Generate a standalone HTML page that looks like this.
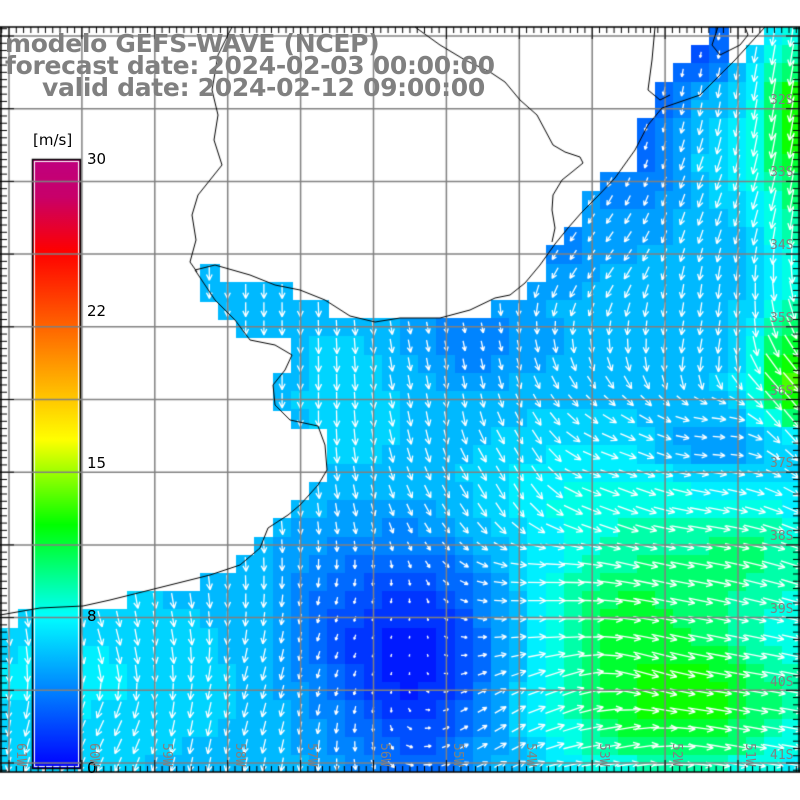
<!DOCTYPE html>
<html><head><meta charset="utf-8"><style>
html,body{margin:0;padding:0;background:#fff;}
#w{position:relative;width:800px;height:800px;overflow:hidden;background:#fff;font-family:"DejaVu Sans","Liberation Sans",sans-serif;}
canvas{position:absolute;left:0;top:0;}
.t{position:absolute;color:#808080;font-weight:bold;font-size:25px;letter-spacing:-0.3px;white-space:nowrap;line-height:1;}
.cb{position:absolute;font-size:15px;color:#000;line-height:1;}
.lat{position:absolute;font-size:13px;color:#808080;line-height:1;font-family:"DejaVu Sans Mono","Liberation Mono",monospace;}
.lon{position:absolute;font-size:13px;color:#808080;line-height:1;transform:rotate(90deg);transform-origin:left top;font-family:"DejaVu Sans Mono","Liberation Mono",monospace;}
</style></head><body><div id="w">
<canvas id="c" width="800" height="800"></canvas>
<div class="t" style="left:5px;top:31px">modelo GEFS-WAVE (NCEP)</div>
<div class="t" style="left:5px;top:53px">forecast date: 2024-02-03 00:00:00</div>
<div class="t" style="left:42px;top:75px">valid date: 2024-02-12 09:00:00</div>
<div class="cb" style="left:33px;top:133px">[m/s]</div>
<div class="cb" style="left:87px;top:152px">30</div>
<div class="cb" style="left:87px;top:304px">22</div>
<div class="cb" style="left:87px;top:456px">15</div>
<div class="cb" style="left:87px;top:609px">8</div>
<div class="cb" style="left:87px;top:761px">0</div>
<div class="lat" style="left:770px;top:94px">32S</div>
<div class="lat" style="left:770px;top:166px">33S</div>
<div class="lat" style="left:770px;top:239px">34S</div>
<div class="lat" style="left:770px;top:312px">35S</div>
<div class="lat" style="left:770px;top:385px">36S</div>
<div class="lat" style="left:770px;top:457px">37S</div>
<div class="lat" style="left:770px;top:530px">38S</div>
<div class="lat" style="left:770px;top:603px">39S</div>
<div class="lat" style="left:770px;top:676px">40S</div>
<div class="lat" style="left:770px;top:749px">41S</div>
<div class="lon" style="left:27px;top:743px">61W</div>
<div class="lon" style="left:100px;top:743px">60W</div>
<div class="lon" style="left:173px;top:743px">59W</div>
<div class="lon" style="left:246px;top:743px">58W</div>
<div class="lon" style="left:318px;top:743px">57W</div>
<div class="lon" style="left:391px;top:743px">56W</div>
<div class="lon" style="left:464px;top:743px">55W</div>
<div class="lon" style="left:537px;top:743px">54W</div>
<div class="lon" style="left:610px;top:743px">53W</div>
<div class="lon" style="left:683px;top:743px">52W</div>
<div class="lon" style="left:756px;top:743px">51W</div>
</div>
<script>
var c=document.getElementById('c'),g=c.getContext('2d');
var CS=18.2,OX=0,OY=9.2;
var rows={1:[[39,39],[42,44]],2:[[38,39],[41,44]],3:[[37,44]],4:[[36,44]],5:[[36,44]],6:[[35,44]],7:[[35,44]],8:[[35,44]],
9:[[33,44]],10:[[32,44]],11:[[32,44]],12:[[31,44]],13:[[30,44]],14:[[11,11],[30,44]],15:[[11,15],[29,44]],16:[[12,17],[27,44]],
17:[[13,44]],18:[[16,44]],19:[[16,44]],20:[[15,44]],21:[[15,44]],22:[[16,44]],23:[[18,44]],24:[[18,44]],25:[[18,44]],26:[[17,44]],
27:[[16,44]],28:[[15,44]],29:[[14,44]],30:[[13,44]],31:[[11,44]],32:[[7,44]],33:[[1,44]],34:[[0,44]],35:[[0,44]],36:[[0,44]],
37:[[0,44]],38:[[0,44]],39:[[0,44]],40:[[0,44]],41:[[0,44]]};
function G(x,y,cx,cy,sx,sy,a){return a*Math.exp(-((x-cx)*(x-cx)/(2*sx*sx)+(y-cy)*(y-cy)/(2*sy*sy)));}
function speed(x,y){
var s=5.8;
s+=G(x,y,420,660,60,90,-5);s+=G(x,y,330,620,40,60,-1.5);
s+=G(x,y,640,130,40,60,-3);s+=G(x,y,700,40,30,30,-3.5);
s+=G(x,y,560,240,30,30,-1.5);s+=G(x,y,470,340,50,30,-1.8);
s+=G(x,y,720,450,50,22,-2.2);s+=G(x,y,620,500,120,50,2.5);
s+=G(x,y,800,110,30,60,5.5);s+=G(x,y,800,380,35,40,6);
s+=G(x,y,680,700,100,60,6);s+=G(x,y,620,600,60,40,3);
s+=G(x,y,760,560,60,40,3);s+=G(x,y,60,680,120,60,1.5);
s+=G(x,y,350,400,40,60,1);s+=G(x,y,800,250,30,80,2.5);
s+=G(x,y,720,150,40,40,1.5);
return Math.max(0.3,s);}
var A=[[100,640,75],[100,740,115],[250,700,105],[300,400,90],[450,400,80],[500,470,60],[620,480,20],[700,530,10],
[550,600,0],[650,680,15],[500,720,-30],[750,740,10],[700,200,110],[600,250,125],[750,100,100],[700,340,100],
[720,440,5],[790,410,50],[250,320,90],[150,620,80],[360,650,110],[560,700,-20],[620,740,-10]];
function dir(x,y){var u=0,v=0;for(var i=0;i<A.length;i++){var dx=x-A[i][0],dy=y-A[i][1];var w=1/Math.pow(dx*dx+dy*dy+50,1.5);var a=A[i][2]*Math.PI/180;u+=w*Math.cos(a);v+=w*Math.sin(a);}return Math.atan2(v,u);}
function lerp(a,b,t){return [a[0]+(b[0]-a[0])*t,a[1]+(b[1]-a[1])*t,a[2]+(b[2]-a[2])*t];}
var ST=[[0,[0,0,255]],[8,[0,255,255]],[11.5,[0,255,0]],[15,[255,255,0]],[22,[255,64,0]],[30,[192,0,127]]];
function col(s){for(var i=0;i<ST.length-1;i++){if(s<=ST[i+1][0]){var t=(s-ST[i][0])/(ST[i+1][0]-ST[i][0]);var q=lerp(ST[i][1],ST[i+1][1],Math.max(0,t));return 'rgb('+(q[0]|0)+','+(q[1]|0)+','+(q[2]|0)+')';}}return 'rgb(192,0,127)';}
g.save();g.beginPath();g.rect(0,27,800,745);g.clip();
var cells=[];
for(var r in rows){rows[r].forEach(function(rg){for(var k=rg[0];k<=rg[1];k++){var x=OX+k*CS,y=OY+r*CS;cells.push([x,y]);
var cx=x+CS/2,cy=y+CS/2;var s=Math.round(speed(cx,cy)*1.2)/1.2;g.fillStyle=col(s);g.fillRect(Math.floor(x),Math.floor(y),Math.ceil(CS)+1,Math.ceil(CS)+1);}});}
g.strokeStyle='#fff';g.lineWidth=1.3;
cells.forEach(function(p){var cx=p[0]+CS/2,cy=p[1]+CS/2;var s=speed(cx,cy);var a=dir(cx,cy);var L=Math.min(26,2.5*s);
var dx=Math.cos(a)*L/2,dy=Math.sin(a)*L/2;var hx=cx+dx,hy=cy+dy;var h=Math.min(7,L*0.45);
g.beginPath();g.moveTo(cx-dx,cy-dy);g.lineTo(hx,hy);
g.moveTo(hx,hy);g.lineTo(hx-h*Math.cos(a-0.45),hy-h*Math.sin(a-0.45));
g.moveTo(hx,hy);g.lineTo(hx-h*Math.cos(a+0.45),hy-h*Math.sin(a+0.45));g.stroke();});
g.restore();
var gr=g.createLinearGradient(0,160,0,768);
gr.addColorStop(0,'#c0007f');gr.addColorStop(0.06,'#c8006a');gr.addColorStop(0.15,'#ff0000');gr.addColorStop(0.23,'#ff4000');
gr.addColorStop(0.46,'#ffff00');gr.addColorStop(0.6,'#00ff00');gr.addColorStop(0.75,'#00ffff');gr.addColorStop(1,'#0000ff');
g.fillStyle=gr;g.fillRect(33,160,47,608);
g.strokeStyle='#000';g.lineWidth=1.5;g.strokeRect(32.5,159.5,48,609);
g.strokeStyle='#fff';g.lineWidth=1;g.strokeRect(34.5,161.5,44,605);
g.strokeStyle='#808080';g.lineWidth=1.5;
for(var i=0;i<11;i++){var x=9+72.9*i;g.beginPath();g.moveTo(x,27);g.lineTo(x,772);g.stroke();}
for(var i=0;i<11;i++){var y=36+72.7*i;g.beginPath();g.moveTo(0,y);g.lineTo(800,y);g.stroke();}
g.strokeStyle='#000';g.lineWidth=1;
function pl(P){g.beginPath();g.moveTo(P[0],P[1]);for(var i=2;i<P.length;i+=2)g.lineTo(P[i],P[i+1]);g.stroke();}
pl([765,27,735,60,700,95,662,108,648,125,635,150,615,178,598,196,582,212,568,228,555,244,540,265,525,283,510,295,495,298,470,310,440,318,400,318,375,322,350,316,325,300,300,290,275,285,250,275,215,265,195,270,205,285,215,300,235,320,250,340,275,345,292,355,285,370,273,385,275,405,290,420,318,426,325,445,327,470,318,485,300,505,288,515,268,528,260,548,240,565,210,575,190,580,150,590,110,600,83,606,40,608,0,615]);
pl([232,27,218,55,212,90,218,115,214,140,222,165,210,180,198,195,192,215,196,240,190,262,197,272]);
pl([415,27,440,45,465,60,490,72,505,82,520,100,537,115,545,130,553,145,565,152,580,157,583,163,572,172,562,180,553,195,552,210,555,228,552,242]);
pl([718,27,712,45,720,55,740,45,748,35,745,27]);
pl([655,27,652,60,648,90,660,100,670,95]);
g.strokeStyle='#000';g.lineWidth=1.5;
g.beginPath();g.moveTo(0,27);g.lineTo(800,27);g.moveTo(0,772);g.lineTo(800,772);g.moveTo(1,27);g.lineTo(1,772);g.moveTo(799,27);g.lineTo(799,772);g.stroke();
g.lineWidth=1;g.beginPath();
for(var i=-2;i<120;i++){var x=9+72.9/10*i;if(x<0||x>800)continue;var big=(i%10==0);var l=big?12:6;
g.moveTo(x,27);g.lineTo(x,27+l);g.moveTo(x,772);g.lineTo(x,772-l);}
for(var i=-2;i<110;i++){var y=36+72.7/10*i;if(y<27||y>772)continue;var big=(i%10==0);var l=big?14:7;
g.moveTo(0,y);g.lineTo(l,y);g.moveTo(800,y);g.lineTo(800-l,y);}
g.stroke();
</script></body></html>
